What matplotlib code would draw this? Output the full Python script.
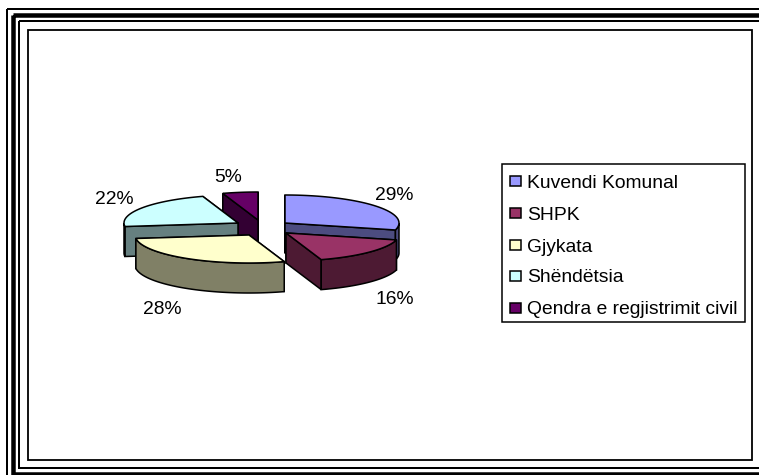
import numpy as np
import matplotlib
matplotlib.use('Agg')
import matplotlib.pyplot as plt
from matplotlib.patches import Polygon, Rectangle

# datos del grafico
categories = ['Kuvendi Komunal', 'SHPK', 'Gjykata', 'Shëndëtsia', 'Qendra e regjistrimit civil']
values = [29, 16, 28, 22, 5]
value_labels = ['29%', '16%', '28%', '22%', '5%']

colors = ['#9999FF', '#993366', '#FFFFCC', '#CCFFFF', '#660066']
sides = ['#4C4C80', '#4D1A33', '#808066', '#668080', '#330033']

plt.rcParams['font.family'] = ['Liberation Sans', 'DejaVu Sans']

RX, RY, DEPTH = 114, 28, 30
apex = [(285, 223), (286, 233), (249, 235), (238, 223), (258, 220)]
label_pos = [(394, 196), (395, 300), (162, 310), (114, 200), (228, 178)]
order = [4, 3, 0, 2, 1]
FS = 13.9

fig = plt.figure(figsize=(7.59, 4.75), dpi=100)
ax = fig.add_axes([0, 0, 1, 1])
ax.set_xlim(0, 759)
ax.set_ylim(475, 0)
ax.axis('off')


def rim(cx, cy, a, b):
    t = np.radians(np.linspace(a, b, 60))
    return np.column_stack([cx + RX * np.sin(t), cy - RY * np.cos(t)])


def wall(pts, color):
    down = pts + [0, DEPTH]
    ax.add_patch(Polygon(np.vstack([pts, down[::-1]]), closed=True, fc=color, ec='black', lw=1.1))


# marco triple (lw en puntos, 1 px = 0.72 pt)
for x0, y0, y1, w in [(7, 9, 490, 2), (12.5, 15, 473.5, 4.5), (19, 21, 467.5, 2)]:
    ax.add_patch(Rectangle((x0, y0), 790 - x0, y1 - y0, fc='none', ec='black', lw=w * 0.72))
ax.add_patch(Rectangle((27.5, 29.5), 724, 430.5, fc='white', ec='black', lw=1.3))

# sectores, de atras hacia adelante
total = sum(values)
edges = np.cumsum([0] + values) / total * 360
for i in order:
    a, b = edges[i], edges[i + 1]
    cx, cy = apex[i]
    arc = rim(cx, cy, a, b)
    p0 = np.array([[cx, cy]])
    # paredes de corte, primero la que queda mas atras
    cuts = [np.vstack([p0, arc[:1]]), np.vstack([p0, arc[-1:]])]
    cuts.sort(key=lambda c: c[1, 1])
    for c in cuts:
        wall(c, sides[i])
    lo, hi = max(a, 90), min(b, 270)
    if lo < hi:
        wall(rim(cx, cy, lo, hi), sides[i])
    ax.add_patch(Polygon(np.vstack([p0, arc]), closed=True, fc=colors[i], ec='black', lw=1.1))

for (x, y), s in zip(label_pos, value_labels):
    ax.text(x, y, s, ha='center', va='center', fontsize=FS, color='black')

# leyenda
ax.add_patch(Rectangle((502, 164), 243, 158, fc='white', ec='black', lw=1.1))
leg_y = [183, 215, 247, 278, 310]
for y, name, c in zip(leg_y, categories, colors):
    ax.add_patch(Rectangle((510, y - 7), 11, 10, fc=c, ec='black', lw=1.1))
    ax.text(527, y, name, ha='left', va='center', fontsize=FS, color='black')

fig.savefig('out.png', dpi=100)
